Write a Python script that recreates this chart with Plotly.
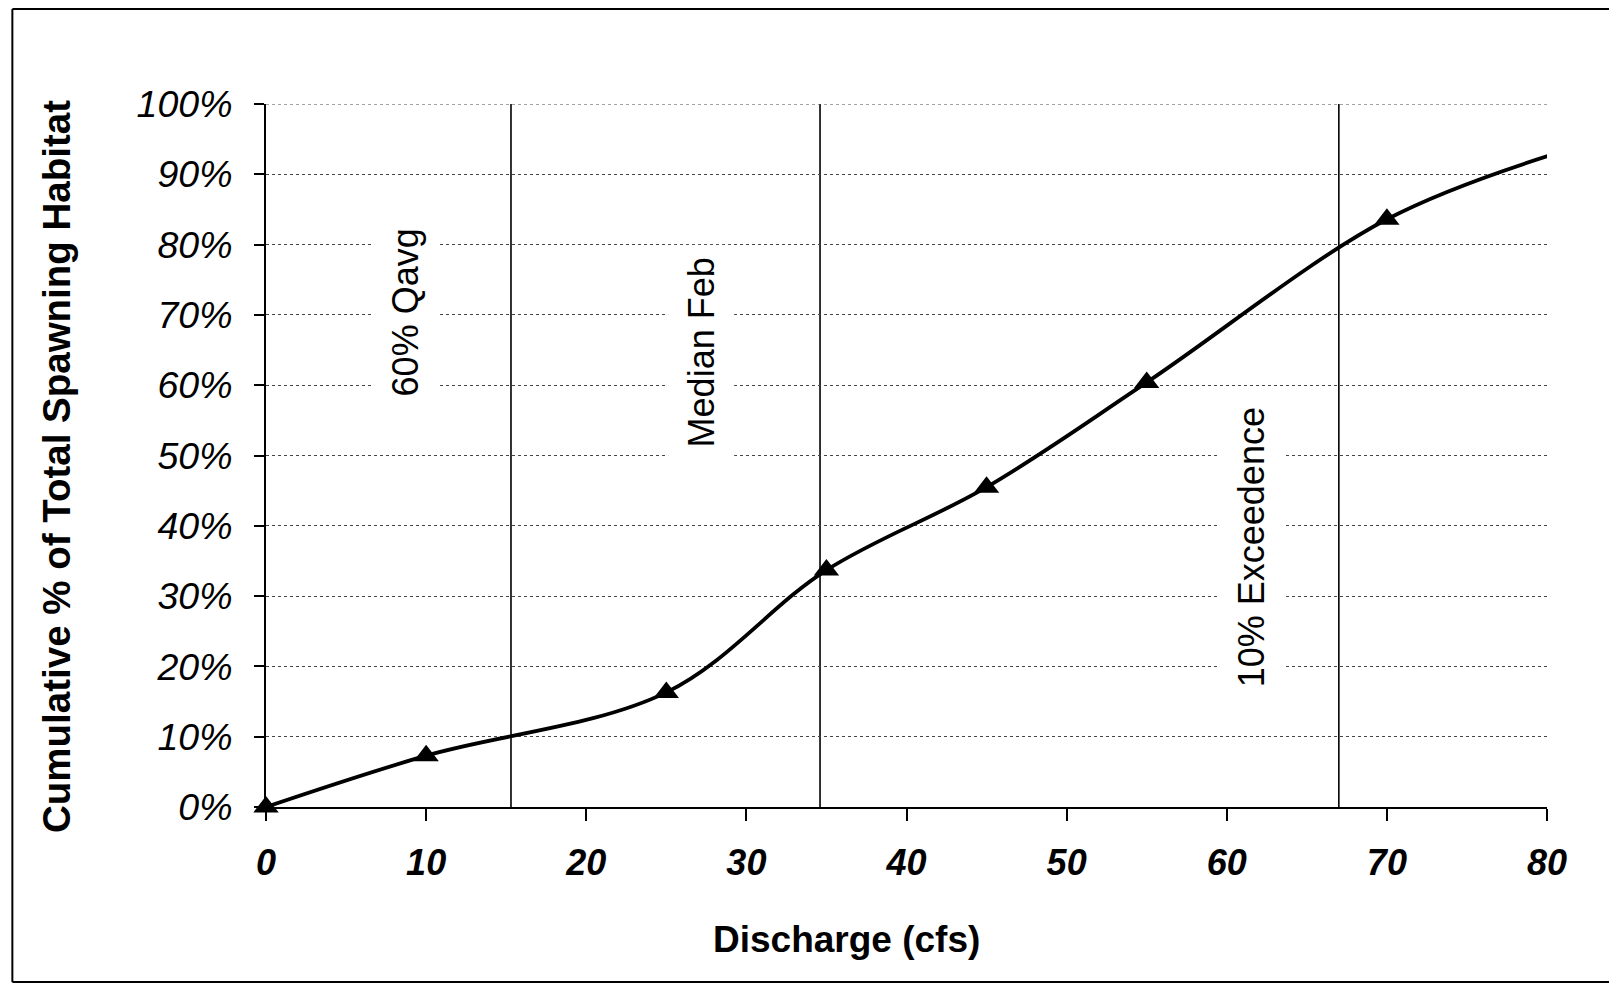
import plotly.graph_objects as go

# Data
discharge = [0, 10, 25, 35, 45, 55, 70, 80.6]
cum_habitat = [0.0, 0.073, 0.163, 0.337, 0.455, 0.604, 0.836, 0.930]
has_marker = [True, True, True, True, True, True, True, False]

ref_flows = [15.3, 34.6, 67.0]
ref_labels = ["60% Qavg", "Median Feb", "10% Exceedence"]
ref_label_x = [8.7, 27.2, 61.6]
ref_label_y = [0.704, 0.646, 0.37]

x_ticks = [0, 10, 20, 30, 40, 50, 60, 70, 80]
y_ticks = [0, 0.1, 0.2, 0.3, 0.4, 0.5, 0.6, 0.7, 0.8, 0.9, 1.0]

FONT = "Liberation Sans, Arial, sans-serif"

fig = go.Figure()
fig.add_trace(go.Scatter(
    x=discharge, y=cum_habitat, mode="lines",
    line=dict(color="black", width=3.8, shape="spline", smoothing=1.0),
    cliponaxis=False, showlegend=False, hoverinfo="skip",
))
fig.add_trace(go.Scatter(
    x=[x for x, m in zip(discharge, has_marker) if m],
    y=[y for y, m in zip(cum_habitat, has_marker) if m],
    mode="markers",
    marker=dict(symbol="triangle-up", color="black", size=22),
    cliponaxis=False, showlegend=False, hoverinfo="skip",
))

shapes = []
for xv in ref_flows:
    shapes.append(dict(type="line", xref="x", yref="y", x0=xv, x1=xv, y0=0, y1=1,
                       line=dict(color="black", width=1.6), layer="below"))
# top gridline at 100%
shapes.append(dict(type="line", xref="x", yref="y", x0=0, x1=80, y0=1, y1=1,
                   line=dict(color="#444444", width=1, dash="dot"), layer="below"))
# outer frame (left, top, bottom)
shapes += [
    dict(type="line", xref="paper", yref="paper", x0=-0.198, x1=-0.198, y0=-0.249, y1=1.135,
         line=dict(color="black", width=2)),
    dict(type="line", xref="paper", yref="paper", x0=-0.198, x1=1.06, y0=1.135, y1=1.135,
         line=dict(color="black", width=2)),
    dict(type="line", xref="paper", yref="paper", x0=-0.198, x1=1.06, y0=-0.249, y1=-0.249,
         line=dict(color="black", width=2)),
]

annotations = []
for lab, lx, ly in zip(ref_labels, ref_label_x, ref_label_y):
    annotations.append(dict(x=lx, y=ly, xref="x", yref="y", text=lab, textangle=-90,
                            showarrow=False, bgcolor="white", borderpad=12,
                            xanchor="center", yanchor="middle",
                            font=dict(family=FONT, size=36, color="black")))
annotations.append(dict(x=0.453, y=-0.189, xref="paper", yref="paper", text="Discharge (cfs)",
                        showarrow=False, xanchor="center", yanchor="middle",
                        font=dict(family=FONT, size=37, color="black", weight="bold")))
annotations.append(dict(x=-0.164, y=0.485, xref="paper", yref="paper",
                        text="Cumulative % of Total Spawning Habitat", textangle=-90,
                        showarrow=False, xanchor="center", yanchor="middle",
                        font=dict(family=FONT, size=38.5, color="black", weight="bold")))

fig.update_layout(
    width=1609, height=979,
    margin=dict(l=258, r=70, t=96, b=180),
    paper_bgcolor="white", plot_bgcolor="white",
    shapes=shapes, annotations=annotations,
    xaxis=dict(range=[0, 80], tickvals=x_ticks, showgrid=False, zeroline=False,
               showline=True, linecolor="black", linewidth=2,
               ticks="outside", ticklen=12, tickwidth=2, tickcolor="black",
               ticklabelstandoff=11,
               tickfont=dict(family=FONT, size=36, color="black", weight="bold", style="italic")),
    yaxis=dict(range=[0, 1], tickvals=y_ticks, tickformat=".0%", showgrid=True,
               gridcolor="#444444", griddash="dot", gridwidth=1, zeroline=False,
               showline=True, linecolor="black", linewidth=2,
               ticks="outside", ticklen=10, tickwidth=2, tickcolor="black",
               ticklabelstandoff=14,
               tickfont=dict(family=FONT, size=37.5, color="black", style="italic")),
)

fig.write_html("out.html")
